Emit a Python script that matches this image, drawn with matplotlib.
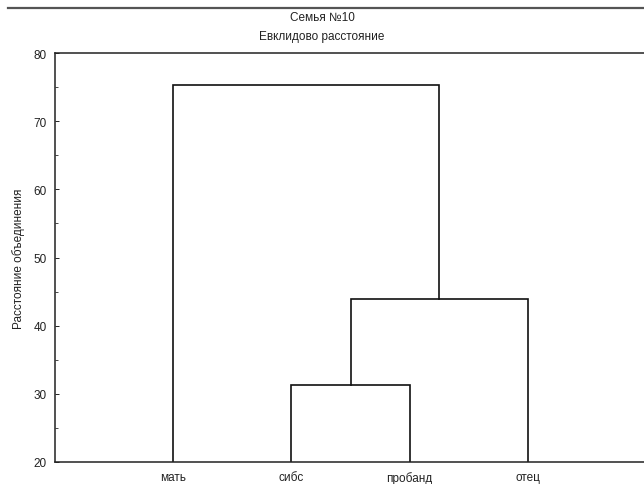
import matplotlib.pyplot as plt
from matplotlib.lines import Line2D

plt.rcParams['font.family'] = ['Liberation Sans', 'DejaVu Sans']

# Члены семьи (порядок листьев) и шаги объединения кластеров
members = ["мать", "сибс", "пробанд", "отец"]
# (узел A, узел B, расстояние объединения); новые узлы нумеруются с 4
merge_a = [1, 4, 0]
merge_b = [2, 3, 5]
merge_dist = [31.3, 43.9, 75.3]

fig = plt.figure(figsize=(6.44, 4.85), dpi=100)
ax = fig.add_axes([0.0854, 0.0454, 0.918, 0.843])

# Координаты узлов: листья на позициях 1..n с высотой 0
nodes = {i: (i + 1, 0.0) for i in range(len(members))}
for k, (a, b, h) in enumerate(zip(merge_a, merge_b, merge_dist)):
    xa, ha = nodes[a]
    xb, hb = nodes[b]
    ax.plot([xa, xa, xb, xb], [ha, h, h, hb], color='#111111', lw=1.2,
            solid_joinstyle='miter')
    nodes[len(members) + k] = ((xa + xb) / 2, h)

ax.set_xlim(0, len(members) + 1)
ax.set_ylim(20, 80)
ax.set_yticks(range(20, 81, 10))
ax.set_yticks(range(20, 81, 5), minor=True)
ax.set_xticks(range(1, len(members) + 1))
ax.set_xticklabels(members)
ax.tick_params(axis='y', direction='in', length=3, width=0.6, labelsize=8.5,
               pad=6, labelcolor='#222222')
ax.tick_params(axis='y', which='minor', direction='in', length=2, width=0.5)
ax.tick_params(axis='x', length=0, labelsize=8.5, pad=6.5, labelcolor='#222222')
for s in ax.spines.values():
    s.set_linewidth(1.1)
    s.set_color('#222222')

ax.set_ylabel("Расстояние объединения", fontsize=8.5, labelpad=6, color='#222222')
fig.text(0.5, 0.962, "Семья №10", ha='center', va='center', fontsize=8.5, color='#222222')
fig.text(0.5, 0.924, "Евклидово расстояние", ha='center', va='center', fontsize=8.5,
         color='#222222')

# Верхняя линия-разделитель
fig.add_artist(Line2D([0.012, 1.0], [0.981, 0.981], transform=fig.transFigure,
                      color='#555555', lw=1.6))

fig.savefig("out.png", dpi=100)
